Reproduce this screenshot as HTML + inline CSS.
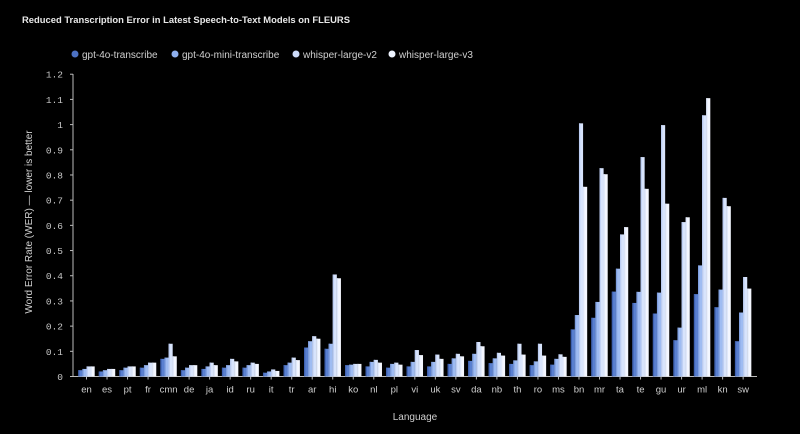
<!DOCTYPE html>
<html><head><meta charset="utf-8"><style>
html,body{margin:0;padding:0;background:#000;width:800px;height:434px;overflow:hidden}
svg{display:block}
</style></head><body>
<svg id="c" width="800" height="434" xmlns="http://www.w3.org/2000/svg" font-family="Liberation Sans, sans-serif">
<rect width="800" height="434" fill="#000"/>
<text x="22" y="23" fill="#e8e8e8" font-size="9.5" font-weight="bold" textLength="328" lengthAdjust="spacingAndGlyphs">Reduced Transcription Error in Latest Speech-to-Text Models on FLEURS</text>
<g font-size="10" fill="#d0d0d0">
<circle cx="75" cy="54" r="3.5" fill="#4d72c4"/><text x="82" y="58">gpt-4o-transcribe</text>
<circle cx="175" cy="54" r="3.5" fill="#8fb0ee"/><text x="182" y="58">gpt-4o-mini-transcribe</text>
<circle cx="296" cy="54" r="3.5" fill="#cddcfa"/><text x="303" y="58">whisper-large-v2</text>
<circle cx="392" cy="54" r="3.5" fill="#eef3ff"/><text x="399" y="58">whisper-large-v3</text>
</g>
<text transform="translate(32,222) rotate(-90)" text-anchor="middle" fill="#d0d0d0" font-size="10">Word Error Rate (WER) — lower is better</text>
<text x="415" y="420" text-anchor="middle" fill="#d0d0d0" font-size="10">Language</text>
<g id="ax"></g>
<g id="bars"></g>
</svg>
<script>
var d=[["en",.025,.03,.04,.04],["es",.02,.025,.03,.03],["pt",.025,.035,.04,.04],["fr",.035,.045,.055,.055],["cmn",.07,.075,.13,.08],["de",.025,.035,.045,.045],["ja",.03,.04,.055,.045],["id",.035,.045,.07,.06],["ru",.035,.045,.055,.05],["it",.015,.02,.028,.022],["tr",.045,.055,.075,.065],["ar",.115,.14,.16,.15],["hi",.11,.13,.405,.39],["ko",.045,.047,.05,.05],["nl",.04,.058,.066,.055],["pl",.035,.05,.055,.047],["vi",.04,.058,.105,.085],["uk",.04,.058,.087,.07],["sv",.05,.072,.09,.08],["da",.062,.09,.137,.12],["nb",.053,.072,.094,.083],["th",.05,.064,.13,.087],["ro",.045,.06,.13,.083],["ms",.047,.07,.088,.078],["bn",.187,.244,1.005,.753],["mr",.233,.296,.827,.803],["ta",.337,.428,.564,.593],["te",.292,.336,.871,.745],["gu",.25,.333,.998,.686],["ur",.144,.194,.613,.632],["ml",.327,.441,1.037,1.105],["kn",.275,.345,.709,.676],["sw",.14,.254,.395,.349]];
var y0=376.5,s=251.9,cols=[["#3f62b2","#5a80d0"],["#7f9fe0","#9fbcf2"],["#bccdf2","#d8e4fc"],["#dfe8fb","#f4f7ff"]];
var ax=document.getElementById("ax"),b=document.getElementById("bars"),h="";
h+='<line x1="73" y1="74" x2="73" y2="'+y0+'" stroke="#bbb" stroke-width="1"/>';
h+='<line x1="73" y1="'+y0+'" x2="757" y2="'+y0+'" stroke="#bbb" stroke-width="1"/>';
for(var i=0;i<=12;i++){var y=y0-i*s/10;var l=i==0?"0":i==10?"1":(i/10).toFixed(1);
h+='<line x1="70" y1="'+y+'" x2="73" y2="'+y+'" stroke="#bbb"/>';
h+='<text x="63" y="'+(y+3.5)+'" text-anchor="end" fill="#c8c8c8" font-size="9.5" font-family="Liberation Mono, monospace">'+l+'</text>';}
var g="";
for(var j=0;j<d.length;j++){var cx=86.5+j*20.52;
h+='<line x1="'+cx+'" y1="'+y0+'" x2="'+cx+'" y2="'+(y0+3)+'" stroke="#bbb"/>';
h+='<text x="'+cx+'" y="'+(y0+16)+'" text-anchor="middle" fill="#d0d0d0" font-size="9.5">'+d[j][0]+'</text>';
for(var k=0;k<4;k++){var v=d[j][k+1],x=cx-8.2+k*4.1,hh=v*s;
g+='<rect x="'+x+'" y="'+(y0-hh)+'" width="4.1" height="'+hh+'" fill="'+cols[k][1]+'"/>';
g+='<rect x="'+x+'" y="'+(y0-hh)+'" width="1.3" height="'+hh+'" fill="'+cols[k][0]+'"/>';}}
ax.innerHTML=h;b.innerHTML=g;
</script>
</body></html>
